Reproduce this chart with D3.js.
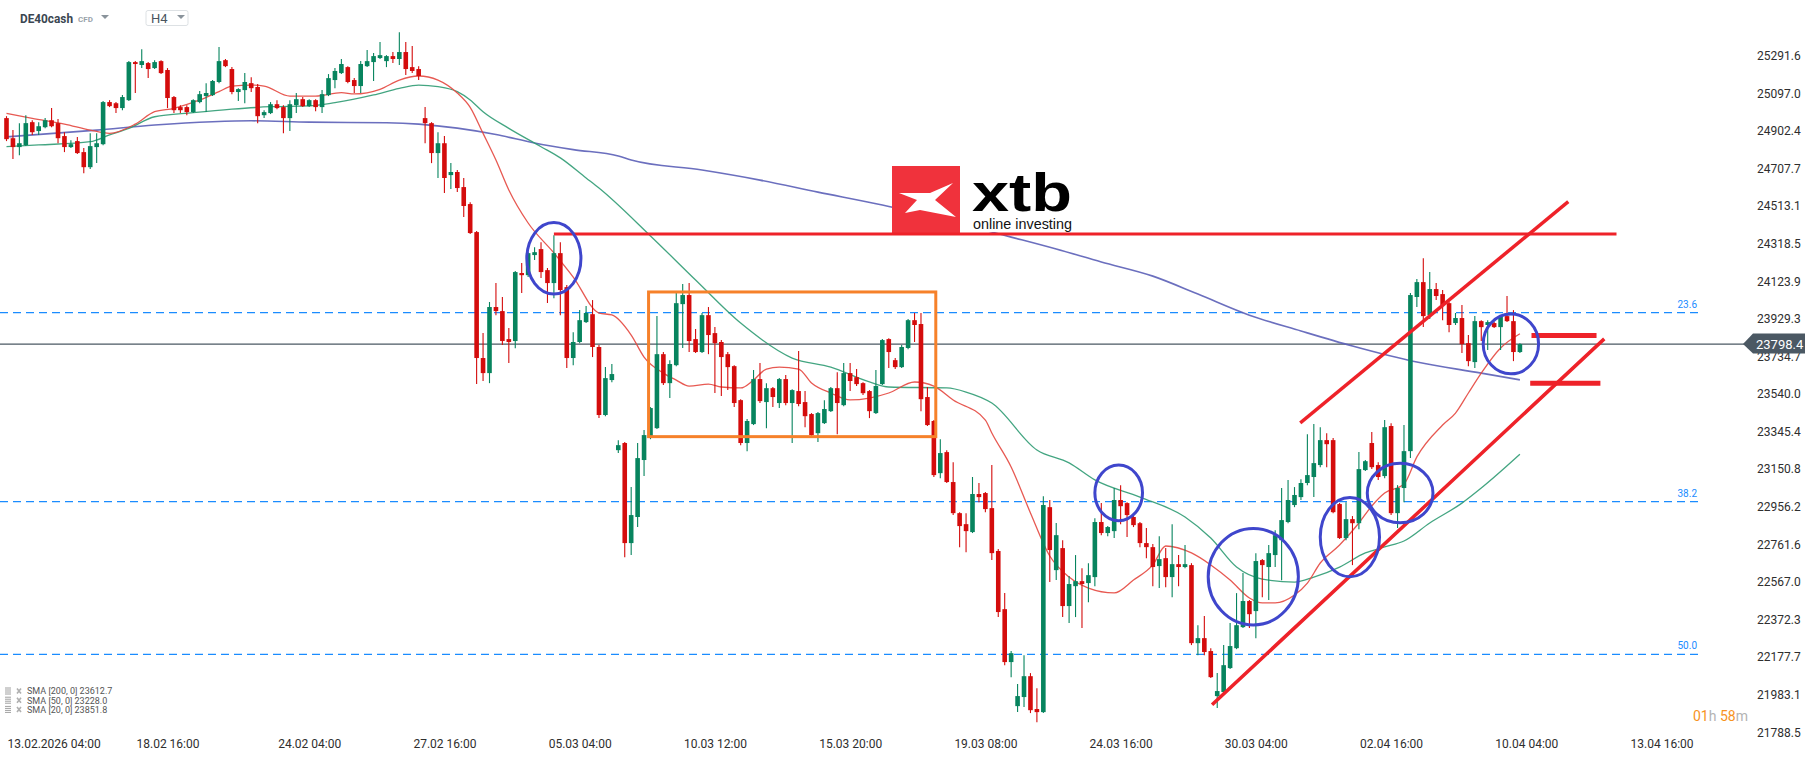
<!DOCTYPE html>
<html>
<head>
<meta charset="utf-8">
<script src="https://cdn.jsdelivr.net/npm/d3@7"></script>
<style>
  body { margin: 0; background: #fff; }
  svg { display: block; font-family: Roboto, "Noto Sans", sans-serif; }
</style>
</head>
<body>
<svg id="chart" width="1816" height="761"></svg>
<script>
// DE40cash H4 candles, oldest first
const opens = [
  24968, 24864, 24818, 24828, 24947, 24901, 24921, 24957, 24942, 24875,
  24818, 24849, 24792, 24714, 24818, 24833, 25051, 25045, 25020, 25061,
  25258, 25243, 25253, 25227, 25263, 25217, 25077, 25025, 25025, 24999,
  25051, 25082, 25087, 25155, 25268, 25222, 25103, 25113, 25149, 25129,
  24983, 24994, 25040, 25025, 24968, 25035, 25066, 25030, 25061, 25025,
  25087, 25165, 25201, 25232, 25165, 25134, 25237, 25258, 25279, 25263,
  25289, 25274, 25310, 25232, 25222, 24968, 24942, 24787, 24838, 24673,
  24689, 24611, 24523, 24378, 23726, 23648, 23990, 23969, 23824, 23814,
  24166, 24155, 24259, 24290, 24181, 24114, 24269, 24093, 23726, 23809,
  23912, 23953, 23783, 23431, 23612, 23249, 23286, 22768, 22903, 23198,
  23322, 23363, 23746, 23596, 23689, 24005, 24052, 23824, 23757, 23948,
  23855, 23809, 23746, 23684, 23508, 23286, 23384, 23617, 23498, 23570,
  23493, 23617, 23493, 23555, 23498, 23436, 23337, 23389, 23451, 23570,
  23482, 23648, 23627, 23596, 23555, 23441, 23591, 23824, 23715, 23679,
  23778, 23922, 23902, 23524, 23400, 23130, 23239, 23084, 22923, 22866,
  22825, 23022, 23027, 22949, 22727, 22426, 22152, 21924, 21971, 22079,
  21909, 21893, 22954, 22628, 22742, 22442, 22545, 22571, 22561, 22592,
  22877, 22820, 22830, 22991, 22975, 22903, 22871, 22768, 22747, 22649,
  22690, 22592, 22659, 22644, 22654, 22250, 22276, 22209, 21976, 21997,
  22121, 22224, 22333, 22468, 22416, 22680, 22644, 22706, 22783, 22877,
  22965, 23006, 23079, 23110, 23172, 23301, 23301, 22970, 22794, 22892,
  22871, 23146, 23286, 23172, 23115, 23374, 22923, 23053, 23244, 24042,
  24119, 23948, 24083, 24057, 24010, 23907, 23933, 23803, 23705, 23917,
  23897, 23907, 23886, 23943, 23917, 23757
]
const highs = [
  24978, 24906, 24942, 24983, 24957, 24947, 24968, 25020, 24963, 24895,
  24854, 24870, 24813, 24890, 24890, 25056, 25061, 25051, 25087, 25263,
  25263, 25325, 25258, 25268, 25268, 25227, 25082, 25035, 25035, 25066,
  25108, 25149, 25165, 25336, 25274, 25232, 25123, 25201, 25180, 25144,
  25009, 25051, 25061, 25035, 25061, 25098, 25077, 25066, 25066, 25113,
  25196, 25227, 25274, 25237, 25175, 25263, 25320, 25305, 25362, 25294,
  25310, 25413, 25362, 25341, 25237, 25025, 24947, 24895, 24875, 24735,
  24699, 24658, 24533, 24383, 23855, 24016, 24114, 24042, 23881, 24176,
  24218, 24274, 24300, 24326, 24192, 24362, 24326, 24104, 23860, 23974,
  23995, 24026, 23793, 23679, 23695, 23301, 23291, 23058, 23286, 23353,
  23472, 23943, 23757, 23715, 24062, 24109, 24114, 23876, 23959, 23990,
  23886, 23819, 23757, 23689, 23513, 23410, 23664, 23700, 23596, 23576,
  23622, 23638, 23565, 23762, 23555, 23441, 23446, 23508, 23576, 23653,
  23700, 23700, 23669, 23601, 23560, 23664, 23824, 23829, 23726, 23793,
  23928, 23959, 23959, 23576, 23405, 23306, 23249, 23187, 22928, 22923,
  23110, 23079, 23032, 23172, 22737, 22509, 22209, 22038, 22188, 22095,
  22017, 23011, 22991, 22872, 22783, 22597, 22706, 22638, 22664, 22897,
  22975, 22856, 23053, 23068, 22980, 22908, 22877, 22846, 22763, 22804,
  22742, 22866, 22706, 22758, 22664, 22343, 22390, 22224, 22095, 22240,
  22354, 22509, 22613, 22473, 22716, 22685, 22758, 22835, 23053, 23094,
  23058, 23099, 23332, 23384, 23368, 23337, 23312, 22975, 22980, 22908,
  23239, 23198, 23343, 23187, 23405, 23389, 23068, 23379, 24062, 24135,
  24243, 24171, 24114, 24078, 24016, 23959, 24000, 23845, 23943, 23922,
  23922, 23912, 23943, 24047, 23974, 23803
]
const lows = [
  24849, 24756, 24776, 24823, 24880, 24880, 24916, 24921, 24838, 24792,
  24813, 24782, 24683, 24704, 24735, 24828, 25025, 24994, 25009, 25056,
  25098, 25227, 25175, 25222, 25196, 25020, 24994, 24994, 24983, 24994,
  25045, 24999, 25082, 25149, 25232, 25092, 25056, 25045, 25103, 24942,
  24968, 24989, 25014, 24890, 24901, 24994, 25025, 25025, 25004, 24994,
  25082, 25123, 25196, 25149, 25098, 25098, 25232, 25160, 25274, 25232,
  25253, 25243, 25191, 25201, 25165, 24838, 24735, 24658, 24580, 24601,
  24585, 24456, 24368, 23591, 23607, 23596, 23948, 23793, 23700, 23777,
  24062, 24145, 24233, 24140, 24011, 24036, 23948, 23674, 23689, 23803,
  23907, 23731, 23415, 23425, 23601, 23234, 22695, 22706, 22851, 23115,
  23306, 23358, 23586, 23519, 23684, 23778, 23757, 23752, 23752, 23746,
  23545, 23529, 23560, 23472, 23275, 23244, 23379, 23493, 23363, 23472,
  23467, 23482, 23286, 23477, 23368, 23322, 23291, 23384, 23446, 23332,
  23477, 23555, 23581, 23534, 23415, 23436, 23586, 23674, 23669, 23674,
  23772, 23809, 23451, 23374, 23110, 23104, 23079, 22913, 22747, 22721,
  22820, 22980, 22928, 22680, 22385, 22136, 22074, 21893, 21919, 21888,
  21841, 21888, 22566, 22577, 22385, 22354, 22385, 22328, 22462, 22545,
  22809, 22804, 22794, 22866, 22799, 22851, 22747, 22690, 22545, 22535,
  22540, 22488, 22545, 22638, 22240, 22188, 22188, 22069, 21914, 21991,
  22116, 22219, 22328, 22328, 22276, 22488, 22473, 22644, 22576, 22871,
  22954, 22991, 23068, 23006, 23161, 23161, 22923, 22789, 22783, 22654,
  22840, 23141, 23151, 23094, 23104, 22913, 22846, 22980, 23208, 23990,
  23886, 23928, 24026, 23922, 23860, 23897, 23752, 23684, 23674, 23814,
  23767, 23881, 23767, 23912, 23710, 23752
]
const closes = [
  24859, 24818, 24838, 24942, 24895, 24926, 24957, 24926, 24864, 24818,
  24833, 24787, 24714, 24823, 24838, 25051, 25030, 25020, 25077, 25258,
  25248, 25263, 25222, 25258, 25201, 25072, 25009, 25009, 24999, 25061,
  25092, 25098, 25160, 25263, 25237, 25103, 25118, 25155, 25123, 24978,
  24999, 25040, 25020, 24968, 25040, 25066, 25030, 25061, 25025, 25092,
  25175, 25212, 25248, 25155, 25134, 25248, 25263, 25289, 25294, 25289,
  25274, 25310, 25222, 25212, 25186, 24942, 24787, 24838, 24658, 24689,
  24606, 24513, 24373, 23726, 23648, 23990, 23969, 23814, 23809, 24171,
  24155, 24269, 24274, 24171, 24114, 24269, 24078, 23726, 23809, 23922,
  23959, 23783, 23431, 23622, 23643, 23275, 22768, 22913, 23208, 23327,
  23467, 23746, 23596, 23695, 24010, 24052, 23814, 23757, 23948, 23845,
  23803, 23731, 23679, 23493, 23286, 23400, 23617, 23503, 23570, 23524,
  23617, 23493, 23560, 23488, 23425, 23327, 23441, 23462, 23570, 23493,
  23648, 23607, 23591, 23544, 23451, 23581, 23819, 23757, 23679, 23783,
  23922, 23897, 23513, 23379, 23120, 23234, 23084, 22923, 22856, 22830,
  23022, 23006, 22944, 22716, 22411, 22152, 22198, 21976, 22079, 21903,
  21893, 22965, 22732, 22809, 22442, 22556, 22571, 22556, 22602, 22877,
  22820, 22851, 22991, 22959, 22913, 22861, 22768, 22747, 22644, 22685,
  22592, 22659, 22644, 22659, 22250, 22276, 22204, 22074, 22002, 22136,
  22235, 22343, 22468, 22400, 22675, 22654, 22716, 22809, 22887, 22991,
  23017, 23079, 23120, 23182, 23301, 23280, 22928, 22794, 22892, 22871,
  23151, 23192, 23161, 23110, 23368, 22923, 23053, 23244, 24052, 24119,
  23943, 24083, 24047, 24000, 23897, 23933, 23798, 23710, 23917, 23886,
  23912, 23886, 23943, 23917, 23757, 23798
]

const sma20Idx = [0, 4, 9, 13, 16, 20, 23, 26, 30, 33, 35, 38, 40, 44, 48, 52, 54, 58, 61, 64,
  67, 70, 72, 74, 76, 78, 81, 85, 88, 92, 94, 97, 99, 102, 104, 106, 109, 111, 114, 116,
  118, 120, 123, 125, 128, 131, 134, 137, 141, 144, 147, 152, 153, 156, 159, 162, 165, 168, 172, 175,
  178, 180, 184, 187, 190, 193, 195, 197, 200, 202, 204, 207, 210, 212, 214, 217, 219, 223, 225, 227,
  229, 232, 235]
const sma20Val = [24993, 24967, 24937, 24906, 24889, 24937, 25001, 25019, 25062, 25105, 25134, 25139, 25134, 25082, 25082, 25100, 25093, 25117, 25165, 25186,
  25165, 25098, 25024, 24889, 24751, 24596, 24425, 24270, 24145, 23959, 23949, 23845, 23731, 23648, 23612, 23581, 23591, 23576, 23571, 23612,
  23669, 23679, 23669, 23597, 23545, 23509, 23519, 23545, 23602, 23581, 23509, 23405, 23338, 23162, 22924, 22701, 22592, 22535, 22510, 22577,
  22655, 22753, 22717, 22655, 22577, 22484, 22458, 22458, 22499, 22561, 22665, 22758, 22872, 22960, 23027, 23074, 23214, 23379, 23441, 23545,
  23648, 23778, 23852]
const sma50Idx = [0, 5, 13, 16, 19, 23, 29, 35, 41, 47, 51, 57, 61, 64, 67, 70, 72, 74, 78, 83,
  86, 90, 92, 100, 107, 114, 122, 128, 134, 137, 146, 149, 153, 160, 165, 169, 176, 183, 187, 191,
  195, 200, 203, 207, 211, 214, 217, 221, 226, 229, 235]
const sma50Val = [24820, 24829, 24846, 24881, 24915, 24975, 24996, 25014, 25027, 25031, 25048, 25088, 25122, 25139, 25131, 25105, 25062, 25001, 24915, 24820,
  24762, 24658, 24606, 24358, 24130, 23907, 23726, 23679, 23602, 23576, 23571, 23550, 23493, 23250, 23183, 23095, 23006, 22903, 22794, 22644,
  22582, 22566, 22592, 22644, 22717, 22748, 22779, 22872, 22975, 23053, 23228]
const sma200Idx = [0, 14, 23, 32, 38, 47, 59, 64, 70, 76, 82, 88, 95, 97, 108, 117, 126, 136, 147, 156,
  163, 170, 178, 185, 193, 201, 209, 219, 229, 235]
const sma200Val = [24871, 24906, 24932, 24949, 24954, 24947, 24944, 24937, 24916, 24883, 24839, 24805, 24772, 24751, 24699, 24647, 24585, 24518, 24430, 24352,
  24290, 24223, 24150, 24057, 23948, 23866, 23788, 23705, 23648, 23613]

const legendNames = ['SMA [200, 0]', 'SMA [50, 0]', 'SMA [20, 0]']
const legendValues = [23612.7, 23228.0, 23851.8]

const yTicks = [25291.6, 25097.0, 24902.4, 24707.7, 24513.1, 24318.5, 24123.9, 23929.3, 23734.7, 23540.0,
  23345.4, 23150.8, 22956.2, 22761.6, 22567.0, 22372.3, 22177.7, 21983.1, 21788.5]
const xTickIdx = [4, 25, 47, 68, 89, 110, 131, 152, 173, 194, 215, 236, 257]
const xTickLabels = ['13.02.2026 04:00', '18.02 16:00', '24.02 04:00', '27.02 16:00', '05.03 04:00', '10.03 12:00',
  '15.03 20:00', '19.03 08:00', '24.03 16:00', '30.03 04:00', '02.04 16:00', '10.04 04:00', '13.04 16:00']

const lastPrice = 23798.4
const fibLabels = ['23.6', '38.2', '50.0']
const fibPrices = [23961, 22983, 22192]

// drawn annotations, in candle index / price units
const resistance = { from: 85, to: 250, price: 24368 }
const rangeBox = { from: 99.7, to: 144.3, top: 24068, bottom: 23319 }
const ellipses = [ // [index, price, radius in candles, radius in points]
  [85, 24242, 4.2, 185], [172.7, 23028, 3.7, 144], [193.6, 22594, 7.0, 250],
  [208.6, 22799, 4.6, 205], [216.4, 23027, 5.1, 154], [233.6, 23799, 4.3, 155]
]
const channelUpper = [[201.1, 23396], [242.3, 24530]]
const channelLower = [[187.4, 21937], [247.9, 23819]]
const targets = [[236.8, 246.9, 23842], [236.6, 247.5, 23595]]

const upColor = '#07845e', downColor = '#d40c0c'
const plotRight = 1699

const x = d3.scaleLinear().domain([0, 235]).range([6.5, 1519.9])
const y = d3.scaleLinear().domain([21788.5, 25291.6]).range([732.3, 55.6])

const svg = d3.select('#chart')
svg.append('rect').attr('width', 1816).attr('height', 761).attr('fill', '#fff')

// fibonacci levels
const fib = svg.append('g')
fib.selectAll('line').data(fibPrices).join('line')
  .attr('x1', 0).attr('x2', plotRight)
  .attr('y1', d => y(d)).attr('y2', d => y(d))
  .attr('stroke', '#1a8cff').attr('stroke-width', 1.2)
  .attr('stroke-dasharray', '8,5')
fib.selectAll('text').data(fibPrices).join('text')
  .attr('x', plotRight - 2).attr('y', d => y(d) - 5)
  .attr('text-anchor', 'end')
  .style('font-size', '10px').attr('fill', '#1a8cff')
  .text((d, i) => fibLabels[i])

// last price line
svg.append('line')
  .attr('x1', 0).attr('x2', 1745)
  .attr('y1', y(lastPrice)).attr('y2', y(lastPrice))
  .attr('stroke', '#4b5863').attr('stroke-width', 1.2)

// moving averages
const smaLine = d3.line()
  .x(d => x(d[0]))
  .y(d => y(d[1]))
  .curve(d3.curveMonotoneX)

const smas = [
  [sma200Idx, sma200Val, '#5b5fb7', 1.6],
  [sma50Idx, sma50Val, '#2f9b73', 1.3],
  [sma20Idx, sma20Val, '#e4473f', 1.3]
]
smas.forEach(([idx, vals, color, w]) => {
  svg.append('path')
    .datum(idx.map((d, i) => [d, vals[i]]))
    .attr('d', smaLine)
    .attr('fill', 'none')
    .attr('stroke', color)
    .attr('stroke-width', w)
    .attr('opacity', 0.9)
})

// candles
const candles = opens.map((o, i) => ({ i, o, h: highs[i], l: lows[i], c: closes[i] }))
const bw = 4.6

const candle = svg.append('g')
  .selectAll('g')
  .data(candles)
  .join('g')
  .attr('fill', d => d.c >= d.o ? upColor : downColor)
  .attr('stroke', d => d.c >= d.o ? upColor : downColor)

candle.append('line')
  .attr('x1', d => x(d.i)).attr('x2', d => x(d.i))
  .attr('y1', d => y(d.h)).attr('y2', d => y(d.l))
  .attr('stroke-width', 1.1)

candle.append('rect')
  .attr('x', d => x(d.i) - bw / 2)
  .attr('y', d => y(Math.max(d.o, d.c)))
  .attr('width', bw)
  .attr('height', d => Math.max(1.2, Math.abs(y(d.o) - y(d.c))))
  .attr('stroke', 'none')

// xtb logo
const logo = svg.append('g')
logo.append('rect').attr('x', 892).attr('y', 166).attr('width', 182).attr('height', 66).attr('fill', '#fff')
logo.append('rect').attr('x', 892).attr('y', 166).attr('width', 68).attr('height', 68).attr('fill', '#f0323c')
logo.append('path')
  .attr('d', 'M899,193 L930,193 L953,183 L935,200 L956,217 L920,210 L905,213 L917,200 Z')
  .attr('fill', '#fff')
logo.append('text')
  .attr('x', 972).attr('y', 211)
  .attr('textLength', 100).attr('lengthAdjust', 'spacingAndGlyphs')
  .style('font-family', '"Liberation Sans", Arial, sans-serif')
  .style('font-weight', 'bold').style('font-size', '54px')
  .attr('fill', '#000')
  .text('xtb')
logo.append('text')
  .attr('x', 973).attr('y', 229)
  .attr('textLength', 99).attr('lengthAdjust', 'spacingAndGlyphs')
  .style('font-family', '"Liberation Sans", Arial, sans-serif')
  .style('font-size', '14px')
  .attr('fill', '#111')
  .text('online investing')

// annotations
const ann = svg.append('g').attr('fill', 'none')

ann.append('line')
  .attr('x1', x(resistance.from)).attr('x2', x(resistance.to))
  .attr('y1', y(resistance.price)).attr('y2', y(resistance.price))
  .attr('stroke', '#ee2229').attr('stroke-width', 3)

ann.append('rect')
  .attr('x', x(rangeBox.from))
  .attr('y', y(rangeBox.top))
  .attr('width', x(rangeBox.to) - x(rangeBox.from))
  .attr('height', y(rangeBox.bottom) - y(rangeBox.top))
  .attr('stroke', '#f6812a').attr('stroke-width', 3)

const straight = d3.line().x(d => x(d[0])).y(d => y(d[1]))
;[channelUpper, channelLower].forEach(pts => {
  ann.append('path')
    .attr('d', straight(pts))
    .attr('stroke', '#ee2229').attr('stroke-width', 3.5)
    .attr('stroke-linecap', 'square')
})

ann.selectAll('.target')
  .data(targets)
  .join('line')
  .attr('class', 'target')
  .attr('x1', d => x(d[0])).attr('x2', d => x(d[1]))
  .attr('y1', d => y(d[2])).attr('y2', d => y(d[2]))
  .attr('stroke', '#ee2229').attr('stroke-width', 5)

ann.selectAll('ellipse')
  .data(ellipses)
  .join('ellipse')
  .attr('cx', d => x(d[0]))
  .attr('cy', d => y(d[1]))
  .attr('rx', d => x(d[0] + d[2]) - x(d[0]))
  .attr('ry', d => y(d[1] - d[3]) - y(d[1]))
  .attr('stroke', '#3f46cc').attr('stroke-width', 3)

// axes
const yAxis = svg.append('g')
  .attr('transform', 'translate(1757,0)')
  .call(d3.axisRight(y).tickValues(yTicks).tickFormat(d3.format('.1f')).tickSize(0).tickPadding(0))
yAxis.select('.domain').remove()
yAxis.selectAll('text')
  .style('font-size', '12px')
  .style('font-family', 'Roboto, sans-serif')
  .attr('fill', '#2e2e2e')

const xAxis = svg.append('g')
  .attr('transform', 'translate(0,737)')
  .call(d3.axisBottom(x).tickValues(xTickIdx).tickFormat((d, i) => xTickLabels[i]).tickSize(0).tickPadding(2))
xAxis.select('.domain').remove()
xAxis.selectAll('text')
  .style('font-size', '12px')
  .style('font-family', 'Roboto, sans-serif')
  .attr('fill', '#2e2e2e')
xAxis.select('.tick text')
  .attr('text-anchor', 'start')
  .attr('x', 7 - x(xTickIdx[0]))

// last price tag
const ly = y(lastPrice)
svg.append('path')
  .attr('d', `M1743,${ly} L1753,${ly - 10.5} L1805,${ly - 10.5} L1805,${ly + 9.5} L1753,${ly + 9.5} Z`)
  .attr('fill', '#4b5863')
svg.append('text')
  .attr('x', 1756).attr('y', ly + 4.5)
  .style('font-size', '13px')
  .attr('fill', '#fff')
  .text(lastPrice.toFixed(1))

// candle countdown
const cd = svg.append('text')
  .attr('x', 1693).attr('y', 721)
  .style('font-size', '14px')
cd.append('tspan').attr('fill', '#f7931e').text('01')
cd.append('tspan').attr('fill', '#b3b3b3').text('h ')
cd.append('tspan').attr('fill', '#f7931e').text('58')
cd.append('tspan').attr('fill', '#b3b3b3').text('m')

// header
const header = svg.append('g')
header.append('text')
  .attr('x', 20).attr('y', 23)
  .attr('textLength', 53).attr('lengthAdjust', 'spacingAndGlyphs')
  .style('font-size', '13px').style('font-weight', 'bold')
  .attr('fill', '#3b4651')
  .text('DE40cash')
header.append('text')
  .attr('x', 78).attr('y', 22)
  .style('font-size', '8px').style('font-weight', 'bold')
  .attr('fill', '#9aa3ab')
  .text('CFD')
header.append('path').attr('d', 'M101,15 L109,15 L105,19 Z').attr('fill', '#8a939b')
header.append('rect')
  .attr('x', 146).attr('y', 10.5).attr('width', 42).attr('height', 15).attr('rx', 2)
  .attr('fill', '#fff').attr('stroke', '#dde1e4')
header.append('text')
  .attr('x', 151).attr('y', 23)
  .style('font-size', '13px')
  .attr('fill', '#4a545e')
  .text('H4')
header.append('path').attr('d', 'M177,15 L185,15 L181,19 Z').attr('fill', '#8a939b')

// indicator legend
const legend = svg.append('g')
  .selectAll('g')
  .data(legendNames)
  .join('g')
  .attr('transform', (d, i) => `translate(0,${691 + i * 9.2})`)
legend.append('path')
  .attr('d', 'M5,-3 H11 M5,-1 H11 M5,1 H11 M5,3 H11')
  .attr('stroke', '#a0a0a0').attr('stroke-width', 1)
legend.append('path')
  .attr('d', 'M17,-2.5 L21,2.5 M21,-2.5 L17,2.5')
  .attr('stroke', '#b0b0b0').attr('stroke-width', 1.6)
legend.append('text')
  .attr('x', 27).attr('y', 3.3)
  .style('font-size', '9px')
  .attr('fill', '#555')
  .text((d, i) => `${d} ${legendValues[i].toFixed(1)}`)
</script>
</body>
</html>
